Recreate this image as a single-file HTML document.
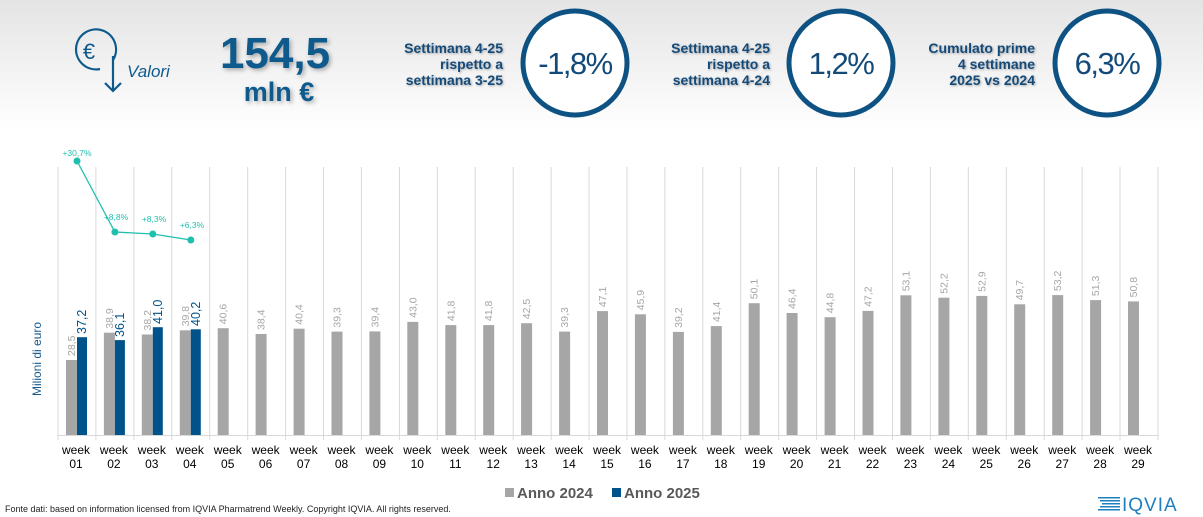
<!DOCTYPE html>
<html><head><meta charset="utf-8"><style>
html,body{margin:0;padding:0;background:#fff}
svg{display:block;font-family:"Liberation Sans",Arial,sans-serif}
.g{fill:#a6a6a6}.b{fill:#00538a}
.lg{font-size:10.5px;fill:#a6a6a6}.lb{font-size:12.5px;fill:#00538a}
.wk{font-size:12px;fill:#000;text-anchor:middle}
.pc{font-size:8.5px;fill:#1fbfae;text-anchor:middle}
</style></head><body>
<svg width="1203" height="517" viewBox="0 0 1203 517" xmlns="http://www.w3.org/2000/svg">
<defs>
<linearGradient id="bg" x1="0" y1="0" x2="0" y2="1">
<stop offset="0" stop-color="#e4e4e4"/><stop offset="1" stop-color="#ffffff"/>
</linearGradient>
</defs>
<rect width="1203" height="130" fill="url(#bg)"/>
<path d="M113 60 A20 20 0 1 0 100 69" fill="none" stroke="#0f5a8c" stroke-width="2.2"/>
<path d="M113 56 L113 91 M105 83 L113 91 L121 83" fill="none" stroke="#0f5a8c" stroke-width="2.2"/>
<text x="89" y="59" font-size="22" fill="#0f5a8c" text-anchor="middle">€</text>
<text x="127" y="77" font-size="17" font-style="italic" fill="#0f5a8c">Valori</text>
<g fill="#0f5a8c" font-weight="bold" text-anchor="middle" style="filter:drop-shadow(2px 2px 2px rgba(0,0,0,0.3))">
<text x="275" y="68" font-size="44">154,5</text>
<text x="279" y="101" font-size="27">mln €</text>
</g>
<g fill="#134a7a" font-weight="bold" font-size="14" text-anchor="end" style="filter:drop-shadow(1px 1px 1px rgba(0,0,0,0.3))">
<text x="503" y="53">Settimana 4-25</text><text x="503" y="69">rispetto a</text><text x="503" y="85">settimana 3-25</text>
<text x="770" y="53">Settimana 4-25</text><text x="770" y="69">rispetto a</text><text x="770" y="85">settimana 4-24</text>
<text x="1035" y="53">Cumulato prime</text><text x="1035" y="69">4 settimane</text><text x="1035" y="85">2025 vs 2024</text>
</g>
<g fill="#fff" stroke="#0d5282" stroke-width="5">
<circle cx="575" cy="63" r="52"/><circle cx="841" cy="63" r="52"/><circle cx="1107" cy="63" r="52"/>
</g>
<g fill="#134a7a" font-size="31" text-anchor="middle" letter-spacing="-1.5">
<text x="575" y="74">-1,8%</text><text x="841" y="74">1,2%</text><text x="1107" y="74">6,3%</text>
</g>
<text transform="translate(41,396) rotate(-90)" font-size="12" fill="#1a5a8a">Milioni di euro</text>

<path d="M58 167V440M95.9 167V440M133.9 167V440M171.8 167V440M209.7 167V440M247.7 167V440M285.6 167V440M323.5 167V440M361.4 167V440M399.4 167V440M437.3 167V440M475.2 167V440M513.2 167V440M551.1 167V440M589 167V440M627 167V440M664.9 167V440M702.8 167V440M740.7 167V440M778.7 167V440M816.6 167V440M854.5 167V440M892.5 167V440M930.4 167V440M968.3 167V440M1006.3 167V440M1044.2 167V440M1082.1 167V440M1120 167V440M1158 167V440M58 435.5H1158" stroke="#d9d9d9" stroke-width="1" fill="none"/>

<g transform="translate(77,0)"><rect class="g" x="-11" y="360" width="11" height="75"/><text class="lg" transform="translate(-2,356) rotate(-90)">28,5</text><rect class="b" x="0" y="337.2" width="10" height="97.8"/><text class="lb" transform="translate(9,334) rotate(-90)">37,2</text><text class="wk" x="-1" y="454">week</text><text class="wk" x="-1" y="468">01</text></g>
<g transform="translate(114.9,0)"><rect class="g" x="-11" y="332.7" width="11" height="102.3"/><text class="lg" transform="translate(-2,328.7) rotate(-90)">38,9</text><rect class="b" x="0" y="340.1" width="10" height="94.9"/><text class="lb" transform="translate(9,337) rotate(-90)">36,1</text><text class="wk" x="-1" y="454">week</text><text class="wk" x="-1" y="468">02</text></g>
<g transform="translate(152.8,0)"><rect class="g" x="-11" y="334.5" width="11" height="100.5"/><text class="lg" transform="translate(-2,330.5) rotate(-90)">38,2</text><rect class="b" x="0" y="327.2" width="10" height="107.8"/><text class="lb" transform="translate(9,324) rotate(-90)">41,0</text><text class="wk" x="-1" y="454">week</text><text class="wk" x="-1" y="468">03</text></g>
<g transform="translate(190.8,0)"><rect class="g" x="-11" y="330.3" width="11" height="104.7"/><text class="lg" transform="translate(-2,326.3) rotate(-90)">39,8</text><rect class="b" x="0" y="329.3" width="10" height="105.7"/><text class="lb" transform="translate(9,326) rotate(-90)">40,2</text><text class="wk" x="-1" y="454">week</text><text class="wk" x="-1" y="468">04</text></g>
<g transform="translate(228.7,0)"><rect class="g" x="-11" y="328.2" width="11" height="106.8"/><text class="lg" transform="translate(-2,324.2) rotate(-90)">40,6</text><text class="wk" x="-1" y="454">week</text><text class="wk" x="-1" y="468">05</text></g>
<g transform="translate(266.6,0)"><rect class="g" x="-11" y="334" width="11" height="101"/><text class="lg" transform="translate(-2,330) rotate(-90)">38,4</text><text class="wk" x="-1" y="454">week</text><text class="wk" x="-1" y="468">06</text></g>
<g transform="translate(304.6,0)"><rect class="g" x="-11" y="328.7" width="11" height="106.3"/><text class="lg" transform="translate(-2,324.7) rotate(-90)">40,4</text><text class="wk" x="-1" y="454">week</text><text class="wk" x="-1" y="468">07</text></g>
<g transform="translate(342.5,0)"><rect class="g" x="-11" y="331.6" width="11" height="103.4"/><text class="lg" transform="translate(-2,327.6) rotate(-90)">39,3</text><text class="wk" x="-1" y="454">week</text><text class="wk" x="-1" y="468">08</text></g>
<g transform="translate(380.4,0)"><rect class="g" x="-11" y="331.4" width="11" height="103.6"/><text class="lg" transform="translate(-2,327.4) rotate(-90)">39,4</text><text class="wk" x="-1" y="454">week</text><text class="wk" x="-1" y="468">09</text></g>
<g transform="translate(418.3,0)"><rect class="g" x="-11" y="321.9" width="11" height="113.1"/><text class="lg" transform="translate(-2,317.9) rotate(-90)">43,0</text><text class="wk" x="-1" y="454">week</text><text class="wk" x="-1" y="468">10</text></g>
<g transform="translate(456.3,0)"><rect class="g" x="-11" y="325.1" width="11" height="109.9"/><text class="lg" transform="translate(-2,321.1) rotate(-90)">41,8</text><text class="wk" x="-1" y="454">week</text><text class="wk" x="-1" y="468">11</text></g>
<g transform="translate(494.2,0)"><rect class="g" x="-11" y="325.1" width="11" height="109.9"/><text class="lg" transform="translate(-2,321.1) rotate(-90)">41,8</text><text class="wk" x="-1" y="454">week</text><text class="wk" x="-1" y="468">12</text></g>
<g transform="translate(532.1,0)"><rect class="g" x="-11" y="323.2" width="11" height="111.8"/><text class="lg" transform="translate(-2,319.2) rotate(-90)">42,5</text><text class="wk" x="-1" y="454">week</text><text class="wk" x="-1" y="468">13</text></g>
<g transform="translate(570.1,0)"><rect class="g" x="-11" y="331.6" width="11" height="103.4"/><text class="lg" transform="translate(-2,327.6) rotate(-90)">39,3</text><text class="wk" x="-1" y="454">week</text><text class="wk" x="-1" y="468">14</text></g>
<g transform="translate(608,0)"><rect class="g" x="-11" y="311.1" width="11" height="123.9"/><text class="lg" transform="translate(-2,307.1) rotate(-90)">47,1</text><text class="wk" x="-1" y="454">week</text><text class="wk" x="-1" y="468">15</text></g>
<g transform="translate(645.9,0)"><rect class="g" x="-11" y="314.3" width="11" height="120.7"/><text class="lg" transform="translate(-2,310.3) rotate(-90)">45,9</text><text class="wk" x="-1" y="454">week</text><text class="wk" x="-1" y="468">16</text></g>
<g transform="translate(683.9,0)"><rect class="g" x="-11" y="331.9" width="11" height="103.1"/><text class="lg" transform="translate(-2,327.9) rotate(-90)">39,2</text><text class="wk" x="-1" y="454">week</text><text class="wk" x="-1" y="468">17</text></g>
<g transform="translate(721.8,0)"><rect class="g" x="-11" y="326.1" width="11" height="108.9"/><text class="lg" transform="translate(-2,322.1) rotate(-90)">41,4</text><text class="wk" x="-1" y="454">week</text><text class="wk" x="-1" y="468">18</text></g>
<g transform="translate(759.7,0)"><rect class="g" x="-11" y="303.2" width="11" height="131.8"/><text class="lg" transform="translate(-2,299.2) rotate(-90)">50,1</text><text class="wk" x="-1" y="454">week</text><text class="wk" x="-1" y="468">19</text></g>
<g transform="translate(797.6,0)"><rect class="g" x="-11" y="313" width="11" height="122"/><text class="lg" transform="translate(-2,309) rotate(-90)">46,4</text><text class="wk" x="-1" y="454">week</text><text class="wk" x="-1" y="468">20</text></g>
<g transform="translate(835.6,0)"><rect class="g" x="-11" y="317.2" width="11" height="117.8"/><text class="lg" transform="translate(-2,313.2) rotate(-90)">44,8</text><text class="wk" x="-1" y="454">week</text><text class="wk" x="-1" y="468">21</text></g>
<g transform="translate(873.5,0)"><rect class="g" x="-11" y="310.9" width="11" height="124.1"/><text class="lg" transform="translate(-2,306.9) rotate(-90)">47,2</text><text class="wk" x="-1" y="454">week</text><text class="wk" x="-1" y="468">22</text></g>
<g transform="translate(911.4,0)"><rect class="g" x="-11" y="295.3" width="11" height="139.7"/><text class="lg" transform="translate(-2,291.3) rotate(-90)">53,1</text><text class="wk" x="-1" y="454">week</text><text class="wk" x="-1" y="468">23</text></g>
<g transform="translate(949.4,0)"><rect class="g" x="-11" y="297.7" width="11" height="137.3"/><text class="lg" transform="translate(-2,293.7) rotate(-90)">52,2</text><text class="wk" x="-1" y="454">week</text><text class="wk" x="-1" y="468">24</text></g>
<g transform="translate(987.3,0)"><rect class="g" x="-11" y="295.9" width="11" height="139.1"/><text class="lg" transform="translate(-2,291.9) rotate(-90)">52,9</text><text class="wk" x="-1" y="454">week</text><text class="wk" x="-1" y="468">25</text></g>
<g transform="translate(1025.2,0)"><rect class="g" x="-11" y="304.3" width="11" height="130.7"/><text class="lg" transform="translate(-2,300.3) rotate(-90)">49,7</text><text class="wk" x="-1" y="454">week</text><text class="wk" x="-1" y="468">26</text></g>
<g transform="translate(1063.2,0)"><rect class="g" x="-11" y="295.1" width="11" height="139.9"/><text class="lg" transform="translate(-2,291.1) rotate(-90)">53,2</text><text class="wk" x="-1" y="454">week</text><text class="wk" x="-1" y="468">27</text></g>
<g transform="translate(1101.1,0)"><rect class="g" x="-11" y="300.1" width="11" height="134.9"/><text class="lg" transform="translate(-2,296.1) rotate(-90)">51,3</text><text class="wk" x="-1" y="454">week</text><text class="wk" x="-1" y="468">28</text></g>
<g transform="translate(1139,0)"><rect class="g" x="-11" y="301.4" width="11" height="133.6"/><text class="lg" transform="translate(-2,297.4) rotate(-90)">50,8</text><text class="wk" x="-1" y="454">week</text><text class="wk" x="-1" y="468">29</text></g>

<polyline points="77,161 114.9,232 152.8,234 190.8,240" fill="none" stroke="#1fbfae" stroke-width="1.3"/>
<g fill="#1fbfae"><circle cx="77" cy="161" r="3.5"/><circle cx="114.9" cy="232" r="3.5"/><circle cx="152.8" cy="234" r="3.5"/><circle cx="190.8" cy="240" r="3.5"/></g>
<text class="pc" x="77" y="156">+30,7%</text>
<text class="pc" x="116" y="220">+8,8%</text>
<text class="pc" x="154" y="222">+8,3%</text>
<text class="pc" x="192" y="228">+6,3%</text>

<text x="5" y="512" font-size="9" fill="#222">Fonte dati: based on information licensed from IQVIA Pharmatrend Weekly. Copyright IQVIA. All rights reserved.</text>
<rect x="505" y="488" width="9" height="9" fill="#a6a6a6"/>
<text x="517" y="498" font-size="15" font-weight="bold" fill="#595959">Anno 2024</text>
<rect x="612" y="488" width="9" height="9" fill="#00538a"/>
<text x="624" y="498" font-size="15" font-weight="bold" fill="#595959">Anno 2025</text>
<g fill="#1f7fbf"><rect x="1098" y="497" width="22" height="1.5"/><rect x="1100" y="500" width="20" height="1.5"/><rect x="1102" y="503" width="18" height="1.5"/><rect x="1100" y="506" width="20" height="1.5"/><rect x="1098" y="509" width="22" height="1.5"/></g>
<text x="1122" y="511" font-size="19" fill="#1f7fbf" letter-spacing="1">IQVIA</text>
</svg>
</body></html>
